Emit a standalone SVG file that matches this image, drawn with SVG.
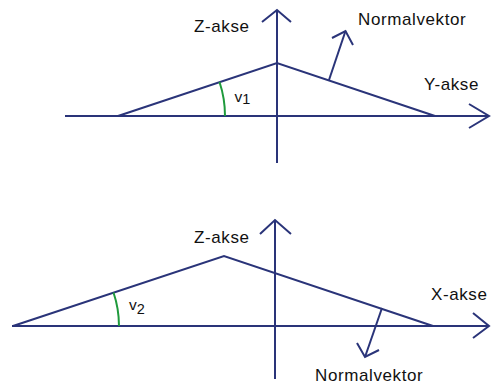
<svg xmlns="http://www.w3.org/2000/svg" width="496" height="385" viewBox="0 0 496 385">
<style>
.ln{stroke:#2a3479;stroke-width:2;fill:none;stroke-linecap:butt;stroke-linejoin:miter}
.arc{stroke:#1f9a3c;stroke-width:2;fill:none}
text{font-family:"Liberation Sans",Arial,sans-serif;fill:#111;font-size:17px;letter-spacing:0.6px}
.v{font-size:15.5px;letter-spacing:0}
</style>
<rect width="496" height="385" fill="#fff"/>
<g id="connectors">
<g id="top-axes">
<path class="ln" d="M65,116 H489"/>
<path class="ln" d="M469,104 L489,116 L469,128"/>
<path class="ln" d="M277,163 V10"/>
<path class="ln" d="M262,22 L277,10 L291,22"/>
</g>
<g id="top-roof">
<path class="ln" d="M118,116 L277,63 L435,116"/>
</g>
<g id="top-normal">
<path class="ln" d="M329,80 L345.5,31"/>
<path class="ln" d="M332,38 L345.5,31 L353,45"/>
</g>
<path class="arc" d="M219.5,82 A107,107 0 0 1 225,116"/>
<g id="bottom-axes">
<path class="ln" d="M12,326 H489"/>
<path class="ln" d="M473,313 L489,326 L473,338"/>
<path class="ln" d="M275,379 V220"/>
<path class="ln" d="M260,234 L275,220 L291,234"/>
</g>
<g id="bottom-roof">
<path class="ln" d="M13,326 L224,256 L433,326"/>
</g>
<g id="bottom-normal">
<path class="ln" d="M382,308 L365,357"/>
<path class="ln" d="M357,343 L365,357 L379,350"/>
</g>
<path class="arc" d="M113.5,292.5 A106,106 0 0 1 119,326"/>
</g>
<g id="labels">
<text x="194" y="32">Z-akse</text>
<text x="358" y="25">Normalvektor</text>
<text x="424" y="90">Y-akse</text>
<text class="v" x="234.5" y="101.5">v<tspan font-size="14.5" dy="2.5">1</tspan></text>
<text x="194" y="243">Z-akse</text>
<text x="431" y="300">X-akse</text>
<text x="315" y="381">Normalvektor</text>
<text class="v" x="129" y="310">v<tspan font-size="14.5" dy="3.5">2</tspan></text>
</g>
</svg>
